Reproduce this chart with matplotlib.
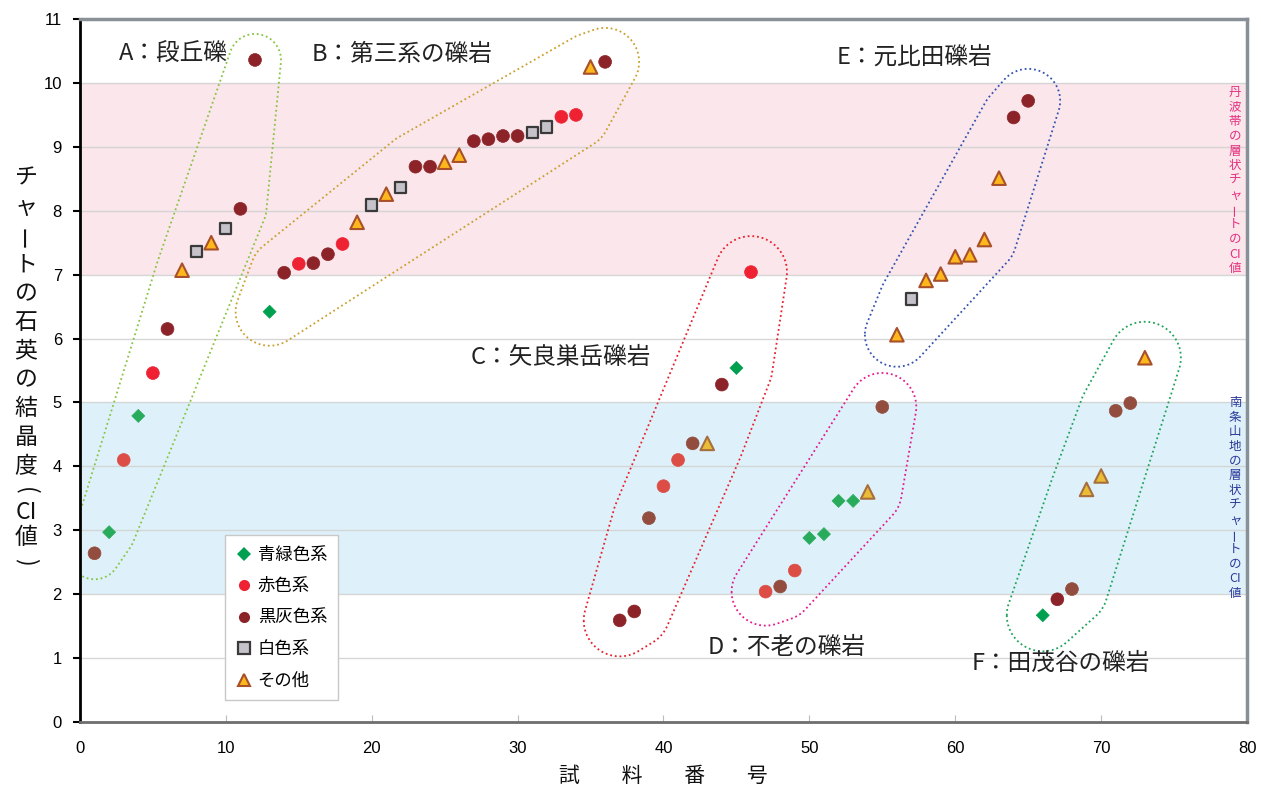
import matplotlib.pyplot as plt
import matplotlib.colors as mcolors
from matplotlib.lines import Line2D
import numpy as np

plt.rcParams['font.family'] = ['Noto Sans CJK JP', 'DejaVu Sans']

# sample number / CI value / colour class / conglomerate group
sample_no = list(range(1, 74))
ci_value = [2.64, 2.97, 4.10, 4.79, 5.46, 6.15, 7.07, 7.36, 7.50, 7.72, 8.03, 10.36,
            6.42, 7.03, 7.17, 7.18, 7.32, 7.48, 7.82, 8.09, 8.26, 8.37, 8.69, 8.69,
            8.76, 8.87, 9.09, 9.12, 9.17, 9.17, 9.22, 9.31, 9.47, 9.50, 10.25, 10.33,
            1.59, 1.73, 3.19, 3.69, 4.10, 4.36, 4.36, 5.28, 5.54, 7.04,
            2.04, 2.12, 2.37, 2.88, 2.94, 3.46, 3.46, 3.60, 4.93,
            6.06, 6.62, 6.91, 7.01, 7.28, 7.31, 7.55, 8.51, 9.46, 9.72,
            1.67, 1.92, 2.08, 3.64, 3.85, 4.87, 4.99, 5.70]
color_class = ['k', 'g', 'r', 'g', 'r', 'k', 't', 'w', 't', 'w', 'k', 'k',
               'g', 'k', 'r', 'k', 'k', 'r', 't', 'w', 't', 'w', 'k', 'k',
               't', 't', 'k', 'k', 'k', 'k', 'w', 'w', 'r', 'r', 't', 'k',
               'k', 'k', 'k', 'r', 'r', 'k', 't', 'k', 'g', 'r',
               'r', 'k', 'r', 'g', 'g', 'g', 'g', 't', 'k',
               't', 'w', 't', 't', 't', 't', 't', 't', 'k', 'k',
               'g', 'k', 'k', 't', 't', 'k', 'k', 't']
group = ['A'] * 12 + ['B'] * 24 + ['C'] * 10 + ['D'] * 9 + ['E'] * 10 + ['F'] * 8

class_names = {'g': '青緑色系', 'r': '赤色系', 'k': '黒灰色系', 'w': '白色系', 't': 'その他'}
group_names = {'A': 'A：段丘礫', 'B': 'B：第三系の礫岩', 'C': 'C：矢良巣岳礫岩',
               'D': 'D：不老の礫岩', 'E': 'E：元比田礫岩', 'F': 'F：田茂谷の礫岩'}
group_label_pos = {'A': (2.7, 10.44), 'B': (15.9, 10.44), 'C': (26.8, 5.70),
                   'D': (43.0, 1.16), 'E': (51.9, 10.41), 'F': (61.1, 0.92)}
group_line_color = {'A': '#86C441', 'B': '#C9A02E', 'C': '#E8202C',
                    'D': '#E5198F', 'E': '#3352B0', 'F': '#1FA25A'}
group_pad = {'A': 26, 'B': 34, 'C': 36, 'D': 34, 'E': 32, 'F': 36}

tanba_band = (7, 10)
nanjo_band = (2, 5)
tanba_caption = ['丹', '波', '帯', 'の', '層', '状', 'チ', 'ャ', 'ー', 'ト', 'の', 'CI', '値']
nanjo_caption = ['南', '条', '山', '地', 'の', '層', '状', 'チ', 'ャ', 'ー', 'ト', 'の', 'CI', '値']
ylabel_chars = ['チ', 'ャ', 'ー', 'ト', 'の', '石', '英', 'の', '結', '晶', '度', '(', 'CI', '値', ')']

styles = {
    'g': dict(marker='D', face='#00A050', edge='#00A050', s=44, lw=0.5),
    'r': dict(marker='o', face='#EE2233', edge='#EE2233', s=85, lw=0.5),
    'k': dict(marker='o', face='#8B2328', edge='#8B2328', s=85, lw=0.5),
    'w': dict(marker='s', face='#C6C2CA', edge='#3A3A3A', s=64, lw=1.6),
    't': dict(marker='^', face='#FFB81C', edge='#A8502A', s=95, lw=1.5),
}

W, H = 1261, 794


def tint(c, y):
    rgb = np.array(mcolors.to_rgb(c))
    if nanjo_band[0] <= y <= nanjo_band[1]:
        rgb = 0.75 * rgb + 0.25 * np.array([0.65, 0.80, 0.50])
    return rgb


def hull(pts):
    pts = sorted(map(tuple, pts))

    def cross(o, a, b):
        return (a[0] - o[0]) * (b[1] - o[1]) - (a[1] - o[1]) * (b[0] - o[0])

    lower, upper = [], []
    for p in pts:
        while len(lower) >= 2 and cross(lower[-2], lower[-1], p) <= 0:
            lower.pop()
        lower.append(p)
    for p in reversed(pts):
        while len(upper) >= 2 and cross(upper[-2], upper[-1], p) <= 0:
            upper.pop()
        upper.append(p)
    return np.array(lower[:-1] + upper[:-1])


def vertical_text(fig, xpix, ypix, chars, step, size, color, narrow_step=None):
    # write text top-to-bottom, one glyph per row (tategaki)
    for ch in chars:
        rot = 0
        st = step
        if ch == 'ー':
            rot = 90
        elif ch in '()':
            rot = -90
            st = narrow_step or step
        elif ch == 'CI':
            st = narrow_step or step
        fig.text(xpix / W, 1 - (ypix + st / 2) / H, ch, fontsize=size, color=color,
                 rotation=rot, ha='center', va='center', rotation_mode='anchor')
        ypix += st


fig = plt.figure(figsize=(W / 100, H / 100), dpi=100)
ax = fig.add_axes([0.0634, 0.0907, 0.9255, 0.8853])
ax.set_xlim(0, 80)
ax.set_ylim(0, 11)

ax.axhspan(*tanba_band, color='#FAE6EB', lw=0, zorder=0)
ax.axhspan(*nanjo_band, color='#DEF1FA', lw=0, zorder=0)
for yv in range(1, 11):
    ax.axhline(yv, color='#D2D2D2', lw=1.0, zorder=0.5, alpha=0.9)

x = np.array(sample_no, dtype=float)
y = np.array(ci_value)

# dotted enclosures around each group (padded hull in screen space)
theta = np.linspace(0, 2 * np.pi, 72, endpoint=False)
for g in group_names:
    idx = [i for i, gg in enumerate(group) if gg == g]
    disp = ax.transData.transform(np.column_stack([x[idx], y[idx]]))
    pad = group_pad[g]
    ring = np.vstack([d + pad * np.column_stack([np.cos(theta), np.sin(theta)]) for d in disp])
    h = hull(ring)
    h = np.vstack([h, h[:1]])
    hd = ax.transData.inverted().transform(h)
    ax.plot(hd[:, 0], hd[:, 1], color=group_line_color[g], lw=1.3,
            linestyle=(0, (1, 1.6)), zorder=1)
    tx, ty = group_label_pos[g]
    ax.text(tx, ty, group_names[g], fontsize=17, color='#222222',
            ha='left', va='center', zorder=4)

for key, st in styles.items():
    idx = [i for i, c in enumerate(color_class) if c == key]
    ax.scatter(x[idx], y[idx], marker=st['marker'], s=st['s'],
               c=[tint(st['face'], y[i]) for i in idx],
               edgecolors=[tint(st['edge'], y[i]) for i in idx],
               linewidths=st['lw'], zorder=3)

handles = [Line2D([], [], linestyle='none', marker=st['marker'],
                  markerfacecolor=st['face'], markeredgecolor=st['edge'],
                  markeredgewidth=st['lw'] if key in 'wt' else 0,
                  markersize=8 if key != 'g' else 7, label=class_names[key])
           for key, st in styles.items()]
leg = ax.legend(handles=handles, loc='lower left', bbox_to_anchor=(0.124, 0.031),
                fontsize=12.5, frameon=True, fancybox=False, framealpha=1,
                edgecolor='#C8C8C8', labelspacing=0.78, handletextpad=0.3,
                handlelength=1.0, borderpad=0.6, borderaxespad=0)
leg.get_frame().set_linewidth(1.0)
leg.set_zorder(5)

# right-side vertical band captions and the y-axis title
vertical_text(fig, 1235, 85, tanba_caption, 14.7, 9, '#E6307E')
vertical_text(fig, 1235, 395, nanjo_caption, 14.7, 9, '#2B3A9A')
vertical_text(fig, 26, 164, ylabel_chars, 28.8, 16.5, '#111111', narrow_step=21)

ax.set_xlabel('試　　料　　番　　号', fontsize=15, labelpad=6, color='#111111')

ax.set_xticks(range(0, 81, 10))
ax.set_yticks(range(0, 12))
ax.tick_params(axis='y', direction='out', length=5, width=1.5, color='black',
               labelsize=12, pad=8, labelfontfamily='Liberation Sans')
ax.tick_params(axis='x', direction='in', length=5, width=0.8, color='#BBBBBB',
               labelsize=12, pad=14, labelfontfamily='Liberation Sans')

ax.spines['left'].set_color('black')
ax.spines['left'].set_linewidth(2)
ax.spines['bottom'].set_color('#6E6E6E')
ax.spines['bottom'].set_linewidth(2)
for s in ('top', 'right'):
    ax.spines[s].set_color('#8A9098')
    ax.spines[s].set_linewidth(2.5)

fig.savefig('out.png', dpi=100)
